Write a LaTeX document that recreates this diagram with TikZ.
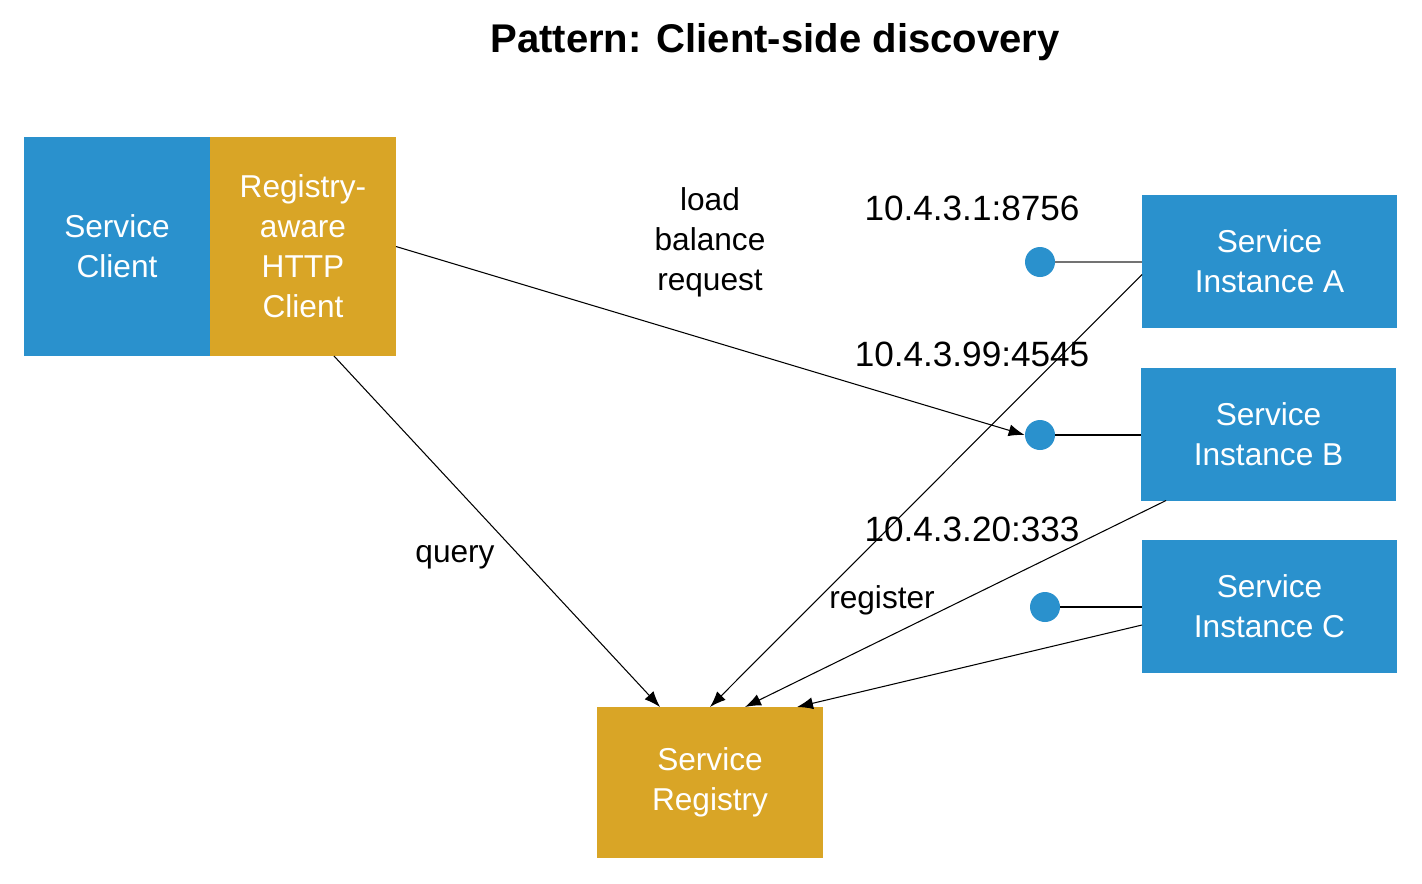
\documentclass[tikz,border=0pt]{standalone}
\usepackage{fontspec}
\setmainfont{Liberation Sans}
\usetikzlibrary{positioning}
\usetikzlibrary{arrows.meta}

\definecolor{svcblue}{HTML}{2A91CD}
\definecolor{svcgold}{HTML}{D9A526}

\begin{document}
\begin{tikzpicture}[
    box/.style={rectangle,inner sep=0pt,outer sep=0pt,align=center,text=white,font=\fontsize{18}{22.8}\selectfont},
    bluebox/.style={box,fill=svcblue},
    goldbox/.style={box,fill=svcgold},
    port/.style={circle,fill=svcblue,minimum size=0.6cm,inner sep=0pt},
    lbl/.style={align=center,font=\fontsize{18}{22.8}\selectfont},
    addr/.style={font=\fontsize{20}{24}\selectfont},
    conn/.style={line width=0.6pt},
    req/.style={conn,-{Latex[length=3.2mm,width=2.4mm]}}
  ]
\useasboundingbox (0,0) rectangle (28.44,-17.66);

\node[font=\fontsize{22.8}{26}\selectfont\bfseries](title) at (15.5,-0.85){Pattern: Client-side discovery};

\node[bluebox,minimum width=3.72cm,minimum height=4.38cm](client) at (2.34,-4.93){Service\\Client};
\node[goldbox,minimum width=3.72cm,minimum height=4.38cm,right=0pt of client](http){Registry-\\aware\\HTTP\\Client};

\node[bluebox,minimum width=5.1cm,minimum height=2.66cm](instA) at (25.39,-5.23){Service\\Instance A};
\node[bluebox,minimum width=5.1cm,minimum height=2.66cm](instB) at (25.37,-8.68){Service\\Instance B};
\node[bluebox,minimum width=5.1cm,minimum height=2.66cm](instC) at (25.39,-12.12){Service\\Instance C};

\node[goldbox,minimum width=4.52cm,minimum height=3.02cm](registry) at (14.2,-15.65){Service\\Registry};

\node[port](portA) at (20.8,-5.24){};
\node[port](portB) at (20.8,-8.7){};
\node[port](portC) at (20.9,-12.14){};

\draw[conn,black!55] (portA) -- (portA -| instA.west);
\draw[conn] (portB) -- (portB -| instB.west);
\draw[conn] (portC) -- (portC -| instC.west);

% request and lookups
\draw[req] (http.east) -- (portB.west);
\draw[req] ([xshift=0.62cm]http.south) -- ([xshift=-1cm]registry.north);

% registrations
\draw[req] ([yshift=-0.26cm]instA.west) -- (registry.north);
\draw[req] ([xshift=0.5cm]instB.south west) -- ([xshift=0.7cm]registry.north);
\draw[req] ([yshift=-0.38cm]instC.west) -- ([xshift=1.74cm]registry.north);

\node[lbl](lbreq) at (14.2,-4.84){load\\balance\\request};
\node[lbl,addr](addrA) at (19.44,-4.16){10.4.3.1:8756};
\node[lbl,addr](addrB) at (19.44,-7.08){10.4.3.99:4545};
\node[lbl,addr](addrC) at (19.44,-10.58){10.4.3.20:333};
\node[lbl](query) at (9.1,-11.14){query};
\node[lbl](register) at (17.64,-12.0){register};
\end{tikzpicture}
\end{document}
